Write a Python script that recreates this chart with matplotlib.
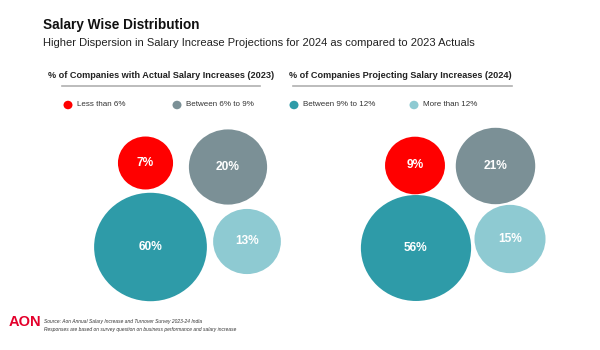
import matplotlib
matplotlib.use('Agg')
import numpy as np
import matplotlib.pyplot as plt
from matplotlib.patches import Ellipse

# data
categories = ['Less than 6%', 'Between 6% to 9%', 'Between 9% to 12%', 'More than 12%']
actual_2023 = [7, 20, 60, 13]
projected_2024 = [9, 21, 56, 15]
panel_titles = ['% of Companies with Actual Salary Increases (2023)',
                '% of Companies Projecting Salary Increases (2024)']

# layout (pixel coords, origin top-left)
colors = ['#ff0000', '#7b9096', '#2e9ba8', '#8ecad2']
left_centres = [(145.5, 163), (228, 167), (150.5, 247), (247, 241.5)]
right_centres = [(415, 165.5), (495.5, 166), (416, 248), (510, 239)]
k = 13.85  # radius scale: r = k * v**(1/3)

plt.rcParams['font.family'] = ['Liberation Sans', 'DejaVu Sans']

fig = plt.figure(figsize=(6, 3.5), dpi=100)
ax = fig.add_axes([0, 0, 1, 1])
ax.set_xlim(0, 600)
ax.set_ylim(350, 0)
ax.axis('off')

ax.text(43, 25, 'Salary Wise Distribution', fontsize=9.8, fontweight='bold',
        va='center', ha='left', color='#111111')
ax.text(43, 43,
        'Higher Dispersion in Salary Increase Projections for 2024 as compared to 2023 Actuals',
        fontsize=8.0, va='center', ha='left', color='#222222')


def draw_panel(values, centres, title, tx, line_x):
    ax.text(tx, 76, title, fontsize=6.6, fontweight='bold', va='center', ha='left',
            color='#222222')
    ax.plot(line_x, [86, 86], color='#b0b0b0', lw=1.2)
    for v, (cx, cy), c in zip(values, centres, colors):
        r = k * v ** (1 / 3)
        ax.add_patch(Ellipse((cx, cy), 2 * r * 1.04, 2 * r, color=c, lw=0))
        ax.text(cx, cy, f'{v}%', color='white', fontsize=8.6, fontweight='bold',
                ha='center', va='center')


draw_panel(actual_2023, left_centres, panel_titles[0], 48, [62, 260])
draw_panel(projected_2024, right_centres, panel_titles[1], 289, [293, 512])

# legend
leg_x = [68, 177, 294, 414]
for name, c, lx in zip(categories, colors, leg_x):
    ax.add_patch(Ellipse((lx, 105), 9, 8.5, color=c, lw=0))
    ax.text(lx + 9, 105, name, fontsize=5.8, va='center', ha='left', color='#333333')

# footer
ax.text(9, 322, 'AON', fontsize=10.5, fontweight='bold', color='#e4002b',
        va='center', ha='left')
ax.text(44, 322, 'Source: Aon Annual Salary Increase and Turnover Survey 2023-24 India',
        fontsize=3.55, style='italic', va='center', ha='left', color='#333333')
ax.text(44, 329, 'Responses are based on survey question on business performance and salary increase',
        fontsize=3.5, style='italic', va='center', ha='left', color='#333333')

fig.savefig('out.png', dpi=100, facecolor='white')
